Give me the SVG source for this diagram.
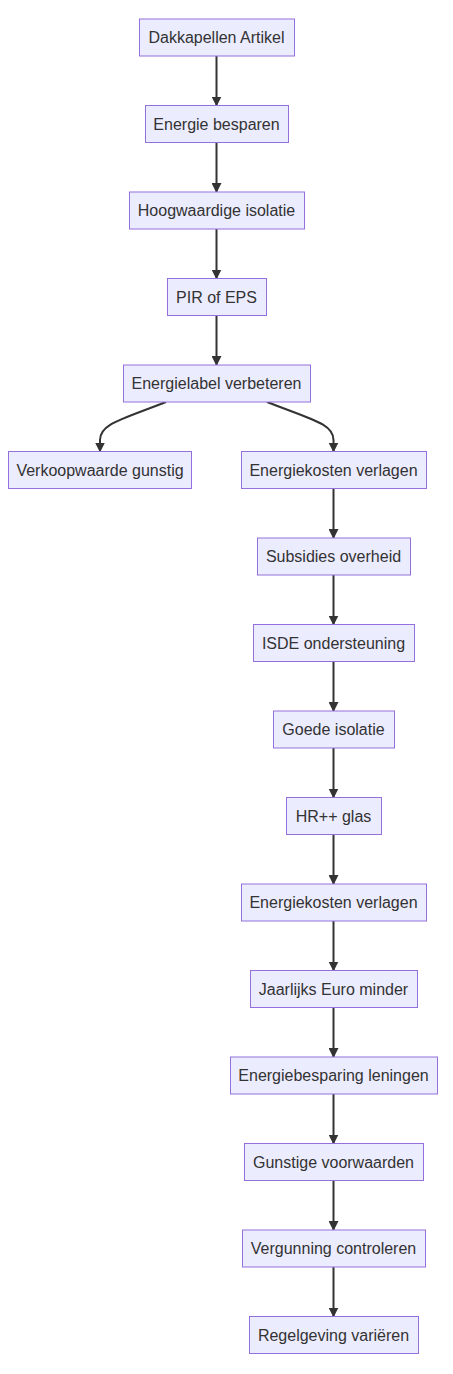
<svg xmlns="http://www.w3.org/2000/svg" width="453" height="1374" viewBox="0 0 453 1374">
<style>
.node rect{fill:#ECECFF;stroke:#9370DB;stroke-width:1}
.node text{font-family:"Liberation Sans",Arial,sans-serif;font-size:16px;fill:#333;text-anchor:middle}
.edge{fill:none;stroke:#333;stroke-width:2}
</style>
<defs>
<marker id="arr" viewBox="0 0 10 10" refX="9" refY="5" markerWidth="10" markerHeight="10" markerUnits="userSpaceOnUse" orient="auto">
<path d="M0,0 L10,5 L0,10 z" fill="#333"/>
</marker>
</defs>
<rect width="453" height="1374" fill="#fff"/>
<g id="edges">
<path class="edge" marker-end="url(#arr)" d="M216.5,56 L216.5,105.5"/>
<path class="edge" marker-end="url(#arr)" d="M216.5,142.5 L216.5,192"/>
<path class="edge" marker-end="url(#arr)" d="M216.5,229 L216.5,278.5"/>
<path class="edge" marker-end="url(#arr)" d="M216.5,315.5 L216.5,365"/>
<path class="edge" marker-end="url(#arr)" d="M166,402 C120,420 100,424 100,440 L100,451.5"/>
<path class="edge" marker-end="url(#arr)" d="M267,402 C313,420 333.5,424 333.5,440 L333.5,451.5"/>
<path class="edge" marker-end="url(#arr)" d="M333.5,488.5 L333.5,538"/>
<path class="edge" marker-end="url(#arr)" d="M333.5,575 L333.5,624.5"/>
<path class="edge" marker-end="url(#arr)" d="M333.5,661.5 L333.5,711"/>
<path class="edge" marker-end="url(#arr)" d="M333.5,748 L333.5,797.5"/>
<path class="edge" marker-end="url(#arr)" d="M333.5,834.5 L333.5,884"/>
<path class="edge" marker-end="url(#arr)" d="M333.5,921 L333.5,970.5"/>
<path class="edge" marker-end="url(#arr)" d="M333.5,1007.5 L333.5,1057"/>
<path class="edge" marker-end="url(#arr)" d="M333.5,1094 L333.5,1143.5"/>
<path class="edge" marker-end="url(#arr)" d="M333.5,1180.5 L333.5,1230"/>
<path class="edge" marker-end="url(#arr)" d="M333.5,1267 L333.5,1316.5"/>
</g>
<g id="n1" class="node"><rect x="139.5" y="19" width="155" height="37"/><text x="216.5" y="43">Dakkapellen Artikel</text></g>
<g id="n2" class="node"><rect x="145.5" y="105.5" width="143" height="37"/><text x="216.5" y="129.5">Energie besparen</text></g>
<g id="n3" class="node"><rect x="129.5" y="192" width="175" height="37"/><text x="216.5" y="216">Hoogwaardige isolatie</text></g>
<g id="n4" class="node"><rect x="167.5" y="278.5" width="99" height="37"/><text x="216.5" y="302.5">PIR of EPS</text></g>
<g id="n5" class="node"><rect x="123.5" y="365" width="187" height="37"/><text x="216.5" y="389">Energielabel verbeteren</text></g>
<g id="n6" class="node"><rect x="8.5" y="451.5" width="183" height="37"/><text x="100" y="475.5">Verkoopwaarde gunstig</text></g>
<g id="n7" class="node"><rect x="241.5" y="451.5" width="185" height="37"/><text x="333.5" y="475.5">Energiekosten verlagen</text></g>
<g id="n8" class="node"><rect x="257.5" y="538" width="153" height="37"/><text x="333.5" y="562">Subsidies overheid</text></g>
<g id="n9" class="node"><rect x="253.5" y="624.5" width="161" height="37"/><text x="333.5" y="648.5">ISDE ondersteuning</text></g>
<g id="n10" class="node"><rect x="273.5" y="711" width="121" height="37"/><text x="333.5" y="735">Goede isolatie</text></g>
<g id="n11" class="node"><rect x="286.5" y="797.5" width="95" height="37"/><text x="333.5" y="821.5">HR++ glas</text></g>
<g id="n12" class="node"><rect x="241.5" y="884" width="185" height="37"/><text x="333.5" y="908">Energiekosten verlagen</text></g>
<g id="n13" class="node"><rect x="250.5" y="970.5" width="167" height="37"/><text x="333.5" y="994.5">Jaarlijks Euro minder</text></g>
<g id="n14" class="node"><rect x="230.5" y="1057" width="207" height="37"/><text x="333.5" y="1081">Energiebesparing leningen</text></g>
<g id="n15" class="node"><rect x="244.5" y="1143.5" width="179" height="37"/><text x="333.5" y="1167.5">Gunstige voorwaarden</text></g>
<g id="n16" class="node"><rect x="242.5" y="1230" width="183" height="37"/><text x="333.5" y="1254">Vergunning controleren</text></g>
<g id="n17" class="node"><rect x="249.5" y="1316.5" width="169" height="37"/><text x="333.5" y="1340.5">Regelgeving variëren</text></g>
</svg>
